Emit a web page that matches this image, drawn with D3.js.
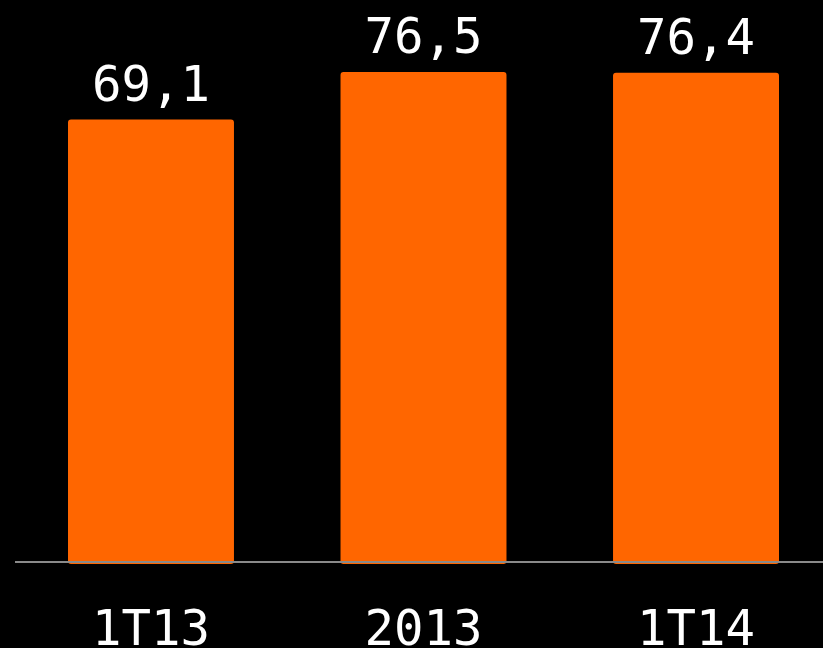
<!DOCTYPE html>
<html>
<head>
<meta charset="utf-8">
<script src="https://cdn.jsdelivr.net/npm/d3@7"></script>
<style>
  html, body { margin: 0; padding: 0; background: #000; }
  svg { display: block; }
</style>
</head>
<body>
<svg id="chart" width="823" height="648"></svg>
<script>
const categories = ["1T13", "2013", "1T14"];
const values = [69.1, 76.5, 76.4];
const valueLabels = ["69,1", "76,5", "76,4"];

const width = 823, height = 648;
const svg = d3.select("#chart");
svg.append("rect").attr("width", width).attr("height", height).attr("fill", "#000");

const baseY = 564;
const x = d3.scaleBand().domain(categories).range([68, 779]).paddingInner(0.391).paddingOuter(0);
const y = d3.scaleLinear().domain([0, 76.5]).range([baseY, 72]);

const data = categories.map((c, i) => ({ c, v: values[i], label: valueLabels[i] }));

svg.selectAll("rect.bar").data(data).join("rect")
  .attr("class", "bar")
  .attr("x", d => x(d.c))
  .attr("y", d => y(d.v))
  .attr("width", x.bandwidth())
  .attr("height", d => baseY - y(d.v))
  .attr("rx", 3)
  .attr("fill", "#FF6600");

// baseline axis
svg.append("line")
  .attr("x1", 15).attr("x2", width)
  .attr("y1", 562).attr("y2", 562)
  .attr("stroke", "#8a8a8a").attr("stroke-width", 2);

const font = "'DejaVu Sans Mono', monospace";

svg.selectAll("text.val").data(data).join("text")
  .attr("class", "val")
  .attr("x", d => x(d.c) + x.bandwidth() / 2)
  .attr("y", d => y(d.v) - 19)
  .attr("text-anchor", "middle")
  .attr("fill", "#fff")
  .attr("font-family", font)
  .attr("font-size", 49)
  .text(d => d.label);

svg.selectAll("text.cat").data(data).join("text")
  .attr("class", "cat")
  .attr("x", d => x(d.c) + x.bandwidth() / 2)
  .attr("y", 645)
  .attr("text-anchor", "middle")
  .attr("fill", "#fff")
  .attr("font-family", font)
  .attr("font-size", 49)
  .text(d => d.c);
</script>
</body>
</html>
